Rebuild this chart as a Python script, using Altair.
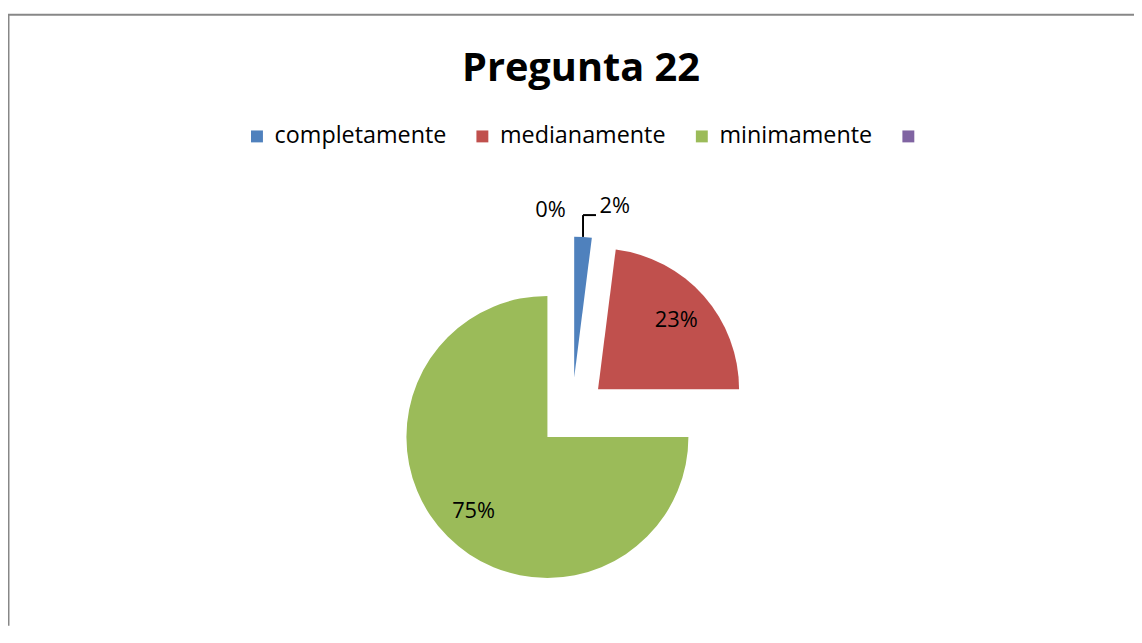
import altair as alt
import pandas as pd

# ---- data ----
categories = ["completamente", "medianamente", "minimamente", ""]
percents = [2, 23, 75, 0]
colors = ["#4F81BD", "#C0504D", "#9BBB59", "#8064A2"]
title_text = "Pregunta 22"

# ---- layout (pixels inside the chart) ----
W, H = 1134, 620
CX, CY = 568, 405      # centre of the un-exploded pie
R = 142                # radius
EXPLODE = 35           # explosion distance
FONT = "Open Sans"

df = pd.DataFrame({"category": categories, "value": percents, "order": list(range(len(categories)))})

base = alt.Chart(df).transform_window(
    cum="sum(value)", sort=[alt.SortField("order")], frame=[None, 0]
).transform_joinaggregate(
    total="sum(value)"
).transform_calculate(
    a1="2*PI*(datum.cum - datum.value)/datum.total",
    a2="2*PI*datum.cum/datum.total",
).transform_calculate(
    mid="(datum.a1 + datum.a2)/2",
).transform_calculate(
    cx=f"{CX} + {EXPLODE}*sin(datum.mid)",
    cy=f"{CY} - {EXPLODE}*cos(datum.mid)",
    small="datum.value < 5",
    label="format(datum.value/datum.total, '.0%')",
).transform_calculate(
    lang="datum.small ? datum.mid + (datum.value == 0 ? -0.127 : 0.17) : datum.mid",
    lrad=f"datum.small ? (datum.value == 0 ? {R}*1.2 : {R}*1.25) : {R}*0.74",
).transform_calculate(
    lx="datum.cx + datum.lrad*sin(datum.lang)",
    ly="datum.cy - datum.lrad*cos(datum.lang)",
    px=f"datum.cx + {R}*sin(datum.mid)",
    py=f"datum.cy - {R}*cos(datum.mid)",
)

arcs = base.mark_arc(radius=R).encode(
    x=alt.X("cx:Q", scale=None, axis=None),
    y=alt.Y("cy:Q", scale=None, axis=None),
    theta=alt.Theta("a1:Q", scale=None, stack=None),
    theta2=alt.Theta2("a2:Q"),
    color=alt.Color(
        "category:N",
        scale=alt.Scale(domain=categories, range=colors),
        legend=alt.Legend(
            title=None, orient="none", direction="horizontal",
            legendX=239, legendY=115, symbolType="square", symbolSize=144,
            symbolStrokeWidth=0, labelFont=FONT, labelFontSize=23.5, labelColor="#000000",
            labelLimit=0, columnPadding=24, labelOffset=6, padding=0,
        ),
    ),
)

labels = base.mark_text(font=FONT, fontSize=22, color="#000000", align="center", baseline="middle").encode(
    x=alt.X("lx:Q", scale=None, axis=None),
    y=alt.Y("ly:Q", scale=None, axis=None),
    text="label:N",
)

leader_base = base.transform_filter("datum.value > 0 && datum.small").transform_calculate(
    lead_y="datum.ly + 9",
    lead_x2="datum.lx - 19",
)
leader_v = leader_base.mark_rule(color="#000000", strokeWidth=2).encode(
    x=alt.X("px:Q", scale=None, axis=None),
    y=alt.Y("py:Q", scale=None, axis=None),
    y2="lead_y:Q",
)
leader_h = leader_base.mark_rule(color="#000000", strokeWidth=2).encode(
    x=alt.X("px:Q", scale=None, axis=None),
    x2="lead_x2:Q",
    y=alt.Y("lead_y:Q", scale=None, axis=None),
)

title = alt.Chart(pd.DataFrame({"t": [title_text]})).mark_text(
    font=FONT, fontSize=40, fontWeight="bold", color="#000000", align="center", baseline="alphabetic"
).encode(x=alt.value(577), y=alt.value(71), text="t:N")

frame_data = alt.Data(values=[{"k": 1}])
border_left = alt.Chart(frame_data).mark_rule(color="#878787", strokeWidth=2).encode(
    x=alt.value(0.5), y=alt.value(4), y2=alt.value(H)
)
border_top = alt.Chart(frame_data).mark_rule(color="#878787", strokeWidth=2).encode(
    x=alt.value(0), x2=alt.value(W), y=alt.value(4.5)
)

chart = alt.layer(
    border_left, border_top, arcs, leader_v, leader_h, labels, title
).properties(
    width=W, height=H, padding=0, autosize=alt.AutoSizeParams(type="none"),
    background="#ffffff",
).configure_view(stroke=None)

chart.save("out.html", embed_options={"renderer": "svg", "actions": False})
